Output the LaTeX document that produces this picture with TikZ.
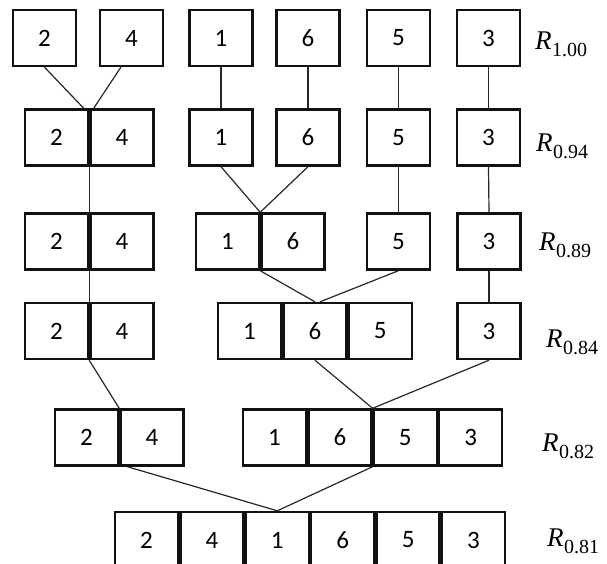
\documentclass[tikz,border=0pt]{standalone}
\usepackage{fontspec}
\setmainfont{Carlito}
\newfontfamily\serifR{Liberation Serif}[ItalicFont=Liberation Serif Italic]
\usetikzlibrary{positioning}
\definecolor{boxline}{HTML}{111111}
\definecolor{linkgray}{HTML}{262626}
\newcommand{\rowlab}[1]{\textit{R}\kern0.5pt\raisebox{-7pt}{\fontsize{20}{20}\selectfont #1}}

\begin{document}
\begin{tikzpicture}[x=1pt, y=-1pt,
  cell/.style={draw=boxline, line width=2.4pt, minimum width=63pt, minimum height=56pt,
    inner sep=0pt, font=\fontsize{25}{30}\selectfont},
  link/.style={draw=linkgray, line width=1.2pt},
  rlabel/.style={anchor=base west, inner sep=0pt, font=\serifR\fontsize{27}{30}\selectfont}]

\useasboundingbox (0,0) rectangle (607,564);

% Row R_{1.00}: six single boxes
\node[cell] (a2) at (44.5,38) {2};
\node[cell] (a4) at (131.5,38) {4};
\node[cell] (a1) at (221,38) {1};
\node[cell] (a6) at (308,38) {6};
\node[cell] (a5) at (398.5,38) {5};
\node[cell] (a3) at (488.5,38) {3};

% Row R_{0.94}: 2 and 4 joined
\node[cell] (b2) at (56.5,137.5) {2};
\node[cell, right=0pt of b2] (b4) {4};
\node[cell] (b1) at (221,137.5) {1};
\node[cell] (b6) at (308,137.5) {6};
\node[cell] (b5) at (398.5,137.5) {5};
\node[cell] (b3) at (488.5,137.5) {3};

% Row R_{0.89}: 1 and 6 joined
\node[cell] (c2) at (56.5,241.5) {2};
\node[cell, right=0pt of c2] (c4) {4};
\node[cell] (c1) at (227.5,241.5) {1};
\node[cell, right=0pt of c1] (c6) {6};
\node[cell] (c5) at (398.5,241.5) {5};
\node[cell] (c3) at (489,241.5) {3};

% Row R_{0.84}: 5 joins 1,6
\node[cell] (d2) at (56.5,331) {2};
\node[cell, right=0pt of d2] (d4) {4};
\node[cell] (d1) at (249.5,331) {1};
\node[cell, right=0pt of d1] (d6) {6};
\node[cell, right=0pt of d6] (d5) {5};
\node[cell] (d3) at (489,331) {3};

% Row R_{0.82}: 3 joins 1,6,5
\node[cell] (e2) at (86.5,437.5) {2};
\node[cell, right=0pt of e2] (e4) {4};
\node[cell] (e1) at (274.5,437.5) {1};
\node[cell, right=0pt of e1] (e6) {6};
\node[cell, right=0pt of e6] (e5) {5};
\node[cell, right=0pt of e5] (e3) {3};

% Row R_{0.81}: one cluster (cut off at the bottom)
\node[cell] (f2) at (146.5,540) {2};
\node[cell, right=0pt of f2] (f4) {4};
\node[cell, right=0pt of f4] (f1) {1};
\node[cell, right=0pt of f1] (f6) {6};
\node[cell, right=0pt of f6] (f5) {5};
\node[cell, right=0pt of f5] (f3) {3};

% Level labels
\node[rlabel] (Ra) at (535,50) {\rowlab{1.00}};
\node[rlabel] (Rb) at (536,152) {\rowlab{0.94}};
\node[rlabel] (Rc) at (539,250) {\rowlab{0.89}};
\node[rlabel] (Rd) at (546,347) {\rowlab{0.84}};
\node[rlabel] (Re) at (542,451) {\rowlab{0.82}};
\node[rlabel] (Rf) at (547,546) {\rowlab{0.81}};

% Links between levels
\draw[link] (a2.south) -- (b2.47);
\draw[link] (a4.250) -- (b4.134);
\draw[link] (a1.south) -- (b1.north);
\draw[link] (a6.south) -- (b6.north);
\draw[link] (a5.south) -- (b5.north);
\draw[link] (a3.south) -- (b3.north);

\draw[link] (b2.south east) -- (c2.north east);
\draw[link] (b1.south) -- (c1.north east);
\draw[link] (b6.south) -- (c1.north east);
\draw[link] (b5.south) -- (c5.north);
\draw[link] (b3.south) -- (c3.north);

\draw[link] (c2.south east) -- (d2.north east);
\draw[link] (c1.south east) -- (d6.north);
\draw[link] (c5.south) -- (d6.80);
\draw[link] (c3.south) -- (d3.north);

\draw[link] (d2.south east) -- (e2.north east);
\draw[link] (d6.south) -- (e5.north west);
\draw[link] (d3.south) -- (e5.north west);

\draw[link] (e4.230) -- (f1.north);
\draw[link] (e5.south west) -- (f1.north);

\end{tikzpicture}
\end{document}
